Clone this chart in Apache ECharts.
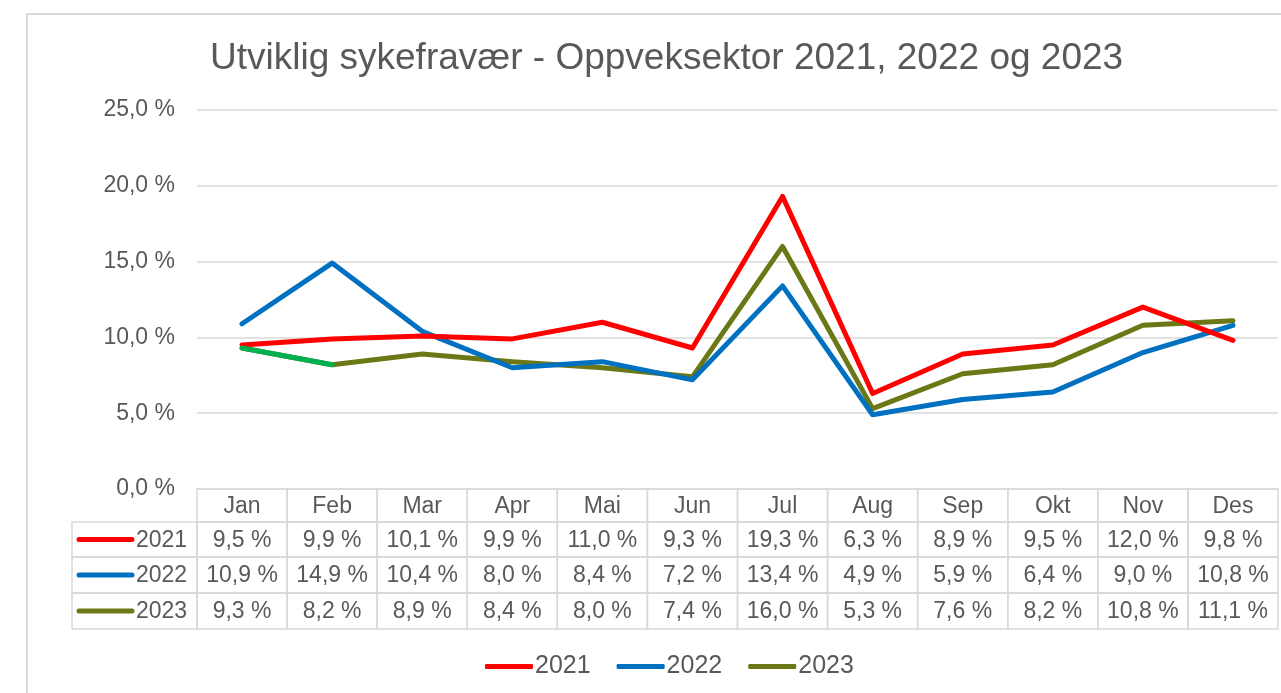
<!DOCTYPE html>
<html>
<head>
<meta charset="utf-8">
<script src="https://cdn.jsdelivr.net/npm/echarts@6/dist/echarts.min.js"></script>
<style>
  html, body { margin: 0; padding: 0; background: #fff; }
  #chart { width: 1281px; height: 693px; }
</style>
</head>
<body>
<div id="chart"></div>
<script>
// data
const months = ['Jan', 'Feb', 'Mar', 'Apr', 'Mai', 'Jun', 'Jul', 'Aug', 'Sep', 'Okt', 'Nov', 'Des']
const years = ['2021', '2022', '2023']
const v2021 = [9.5, 9.9, 10.1, 9.9, 11.0, 9.3, 19.3, 6.3, 8.9, 9.5, 12.0, 9.8]
const v2022 = [10.9, 14.9, 10.4, 8.0, 8.4, 7.2, 13.4, 4.9, 5.9, 6.4, 9.0, 10.8]
const v2023 = [9.3, 8.2, 8.9, 8.4, 8.0, 7.4, 16.0, 5.3, 7.6, 8.2, 10.8, 11.1]
const yTicks = [0, 5, 10, 15, 20, 25]

const colors = ['#ff0000', '#0070c0', '#6b7815']
const firstSegColor = '#00b050' // Jan-Feb 2023 is drawn green in the original
const txt = '#595959'
const border = '#d9d9d9'
const font = "'Liberation Sans', Arial, sans-serif"
const fs = 23

const pct = v => v.toFixed(1).replace('.', ',') + ' %'

const chart = echarts.init(document.getElementById('chart'))

const lineSeries = [v2021, v2022, v2023].map((d, i) => ({
  name: years[i],
  type: 'line',
  data: d,
  symbol: 'none',
  color: colors[i],
  lineStyle: { width: 5, color: colors[i], cap: 'round', join: 'round' },
  z: 3 - i
}))
// green first segment of 2023, on top of the olive line
lineSeries.push({
  name: '2023 start',
  type: 'line',
  data: v2023.map((v, i) => (i <= 1 ? v : '-')),
  symbol: 'none',
  color: firstSegColor,
  lineStyle: { width: 5, color: firstSegColor, cap: 'round' },
  z: 4
})

const option = {
  animation: false,
  textStyle: { fontFamily: font },
  title: {
    text: 'Utviklig sykefravær - Oppveksektor 2021, 2022 og 2023',
    left: 205,
    top: 35,
    textStyle: { fontSize: 37, fontWeight: 'normal', color: txt, fontFamily: font }
  },
  legend: {
    left: 480,
    top: 649,
    icon: 'roundRect',
    itemWidth: 48,
    itemHeight: 5,
    itemGap: 26,
    textStyle: { fontSize: 25, color: txt, fontFamily: font, padding: [0, 0, 0, -3] },
    data: years
  },
  grid: { left: 197, right: 3, top: 110, bottom: 204 },
  xAxis: {
    type: 'category',
    data: months,
    boundaryGap: true,
    axisLine: { show: false },
    axisTick: { show: false },
    axisLabel: { show: false }
  },
  yAxis: {
    type: 'value',
    min: yTicks[0],
    max: yTicks[yTicks.length - 1],
    interval: 5,
    axisLine: { show: false },
    axisTick: { show: false },
    axisLabel: {
      margin: 22,
      fontSize: fs,
      color: txt,
      fontFamily: font,
      formatter: v => pct(v)
    },
    splitLine: { lineStyle: { color: border, width: 1.5 } }
  },
  series: lineSeries
}

chart.setOption(option)

// data table below the axis, laid out from the axis scale
function buildTable () {
  const g = []
  const x0 = chart.convertToPixel({ xAxisIndex: 0 }, 0)
  const x1 = chart.convertToPixel({ xAxisIndex: 0 }, 1)
  const cw = x1 - x0
  const top = chart.convertToPixel({ yAxisIndex: 0 }, 0)
  const rh = [33, 35, 36, 36]
  const legendLeft = 72
  const all = [v2021, v2022, v2023]

  // outer frame
  g.push({ type: 'rect', shape: { x: 27, y: 14, width: 1300, height: 720 },
    style: { fill: 'none', stroke: border, lineWidth: 2 }, silent: true })

  let y = top
  for (let r = 0; r < 4; r++) {
    for (let c = 0; c < months.length; c++) {
      const cx = chart.convertToPixel({ xAxisIndex: 0 }, c)
      g.push({ type: 'rect', shape: { x: cx - cw / 2, y, width: cw, height: rh[r] },
        style: { fill: 'none', stroke: border, lineWidth: 1.5 }, silent: true })
      g.push({ type: 'text', x: cx, y: y + rh[r] / 2 + 1,
        style: { text: r === 0 ? months[c] : pct(all[r - 1][c]), fill: txt,
          font: fs + 'px ' + font, align: 'center', verticalAlign: 'middle' } })
    }
    if (r > 0) {
      const lx = legendLeft
      const lw = x0 - cw / 2 - lx
      g.push({ type: 'rect', shape: { x: lx, y, width: lw, height: rh[r] },
        style: { fill: 'none', stroke: border, lineWidth: 1.5 }, silent: true })
      g.push({ type: 'line', shape: { x1: lx + 7, y1: y + rh[r] / 2, x2: lx + 60, y2: y + rh[r] / 2 },
        style: { stroke: colors[r - 1], lineWidth: 5, lineCap: 'round' } })
      g.push({ type: 'text', x: lx + 64, y: y + rh[r] / 2 + 1,
        style: { text: years[r - 1], fill: txt, font: fs + 'px ' + font,
          align: 'left', verticalAlign: 'middle' } })
    }
    y += rh[r]
  }
  chart.setOption({ graphic: g })
}

buildTable()
window.addEventListener('resize', () => { chart.resize(); buildTable() })
</script>
</body>
</html>
